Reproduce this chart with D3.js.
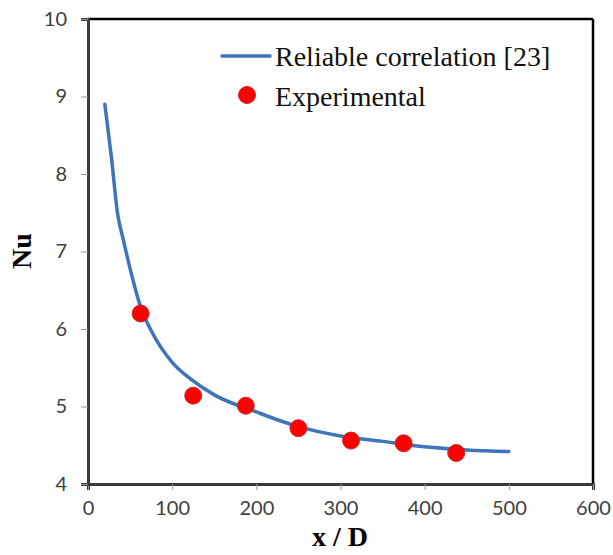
<!DOCTYPE html>
<html><head><meta charset="utf-8">
<script src="https://cdn.jsdelivr.net/npm/d3@7"></script>
<style>body{margin:0;background:#fff}svg{display:block}</style>
</head><body>
<script>
const curveX = [20, 28, 35, 42, 50, 63, 75, 100, 125, 150, 200, 250, 300, 350, 400, 450, 500];
const curveNu = [8.9, 8.2, 7.5, 7.15, 6.78, 6.27, 5.98, 5.57, 5.33, 5.15, 4.93, 4.74, 4.62, 4.55, 4.48, 4.44, 4.42];
const expX = [62.5, 125, 187.5, 250, 312.5, 375, 437.5];
const expNu = [6.2, 5.14, 5.01, 4.72, 4.56, 4.525, 4.4];
const xTicks = [0, 100, 200, 300, 400, 500, 600];
const yTicks = [4, 5, 6, 7, 8, 9, 10];
const labels = {x: "x / D", y: "Nu", line: "Reliable correlation [23]", dots: "Experimental"};

const W = 613, H = 555;
const svg = d3.select("body").append("svg").attr("width", W).attr("height", H);
const x = d3.scaleLinear().domain([0, 600]).range([88, 593]);
const y = d3.scaleLinear().domain([4, 10]).range([484, 19]);

// frame top/right
svg.append("line").attr("x1", x(0)).attr("x2", x(600)).attr("y1", y(10)).attr("y2", y(10)).attr("stroke", "#000").attr("stroke-width", 2.5);
svg.append("line").attr("x1", x(600)).attr("x2", x(600)).attr("y1", y(10)).attr("y2", y(4)).attr("stroke", "#000").attr("stroke-width", 2.5);

const tickFont = "Lato, 'Open Sans', sans-serif";
const gx = svg.append("g").attr("transform", `translate(0,${y(4)})`)
  .call(d3.axisBottom(x).tickValues(xTicks).tickSize(6).tickPadding(11).tickFormat(d3.format("d")));
const gy = svg.append("g").attr("transform", `translate(${x(0)},0)`)
  .call(d3.axisLeft(y).tickValues(yTicks).tickSize(7).tickPadding(14).tickFormat(d3.format("d")));
[gx, gy].forEach(g => {
  g.select(".domain").attr("stroke", "#3a3a3a").attr("stroke-width", 3);
  g.selectAll(".tick line").attr("stroke", "#999").attr("stroke-width", 1);
  g.selectAll(".tick text").attr("fill", "#404040").style("font-family", tickFont).style("font-size", "20px");
});

// curve
const line = d3.line().x((d, i) => x(curveX[i])).y(d => y(d)).curve(d3.curveMonotoneX);
svg.append("path").attr("d", line(curveNu)).attr("fill", "none").attr("stroke", "#3f74bb")
  .attr("stroke-width", 3.5).attr("stroke-linecap", "round");

// dots
svg.selectAll("circle.exp").data(expNu).enter().append("circle").attr("class", "exp")
  .attr("cx", (d, i) => x(expX[i])).attr("cy", d => y(d)).attr("r", 8.5)
  .attr("fill", "#ff0000").attr("stroke", "#c23030").attr("stroke-width", 1);

// axis titles
const serif = "'Liberation Serif', 'Times New Roman', serif";
svg.append("text").attr("x", 340).attr("y", 546).attr("text-anchor", "middle")
  .style("font-family", serif).style("font-weight", "bold").style("font-size", "28px").text(labels.x);
svg.append("text").attr("transform", `translate(31,${251}) rotate(-90)`).attr("text-anchor", "middle")
  .style("font-family", serif).style("font-weight", "bold").style("font-size", "28px").text(labels.y);

// legend
svg.append("line").attr("x1", 222).attr("x2", 270).attr("y1", 56).attr("y2", 56)
  .attr("stroke", "#3f74bb").attr("stroke-width", 3.5).attr("stroke-linecap", "round");
svg.append("text").attr("x", 275).attr("y", 66).style("font-family", serif).style("font-size", "28px").attr("fill", "#111").text(labels.line);
svg.append("circle").attr("cx", 247).attr("cy", 95).attr("r", 8.5).attr("fill", "#ff0000").attr("stroke", "#c23030").attr("stroke-width", 1);
svg.append("text").attr("x", 275).attr("y", 106).style("font-family", serif).style("font-size", "28px").attr("fill", "#111").text(labels.dots);
</script>
</body></html>
